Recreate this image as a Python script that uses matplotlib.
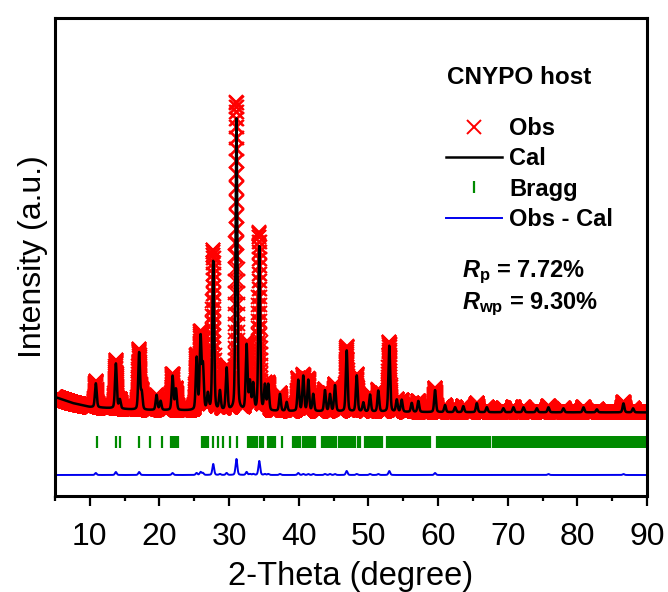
import numpy as np
import matplotlib
matplotlib.use('Agg')
import matplotlib.pyplot as plt
from matplotlib.ticker import MultipleLocator

plt.rcParams['font.family'] = ['Liberation Sans', 'DejaVu Sans']
plt.rcParams['mathtext.fontset'] = 'custom'
plt.rcParams['mathtext.rm'] = 'Liberation Sans:bold'
plt.rcParams['mathtext.it'] = 'Liberation Sans:italic:bold'
plt.rcParams['mathtext.bf'] = 'Liberation Sans:bold'

# ---------------- data ----------------
scan_start, scan_stop, scan_step = 5.0, 90.0, 0.01

bkg_2theta = [5, 7.5, 10, 17, 30, 60, 90]
bkg_counts = [1325, 1175, 1075, 1000, 975, 945, 940]

peak_pos = [10.86, 13.74, 14.31, 17.08, 17.45, 19.58, 20.16, 21.88, 22.36,
            25.33, 25.90, 26.24, 26.95, 27.72, 28.68, 29.64, 31.05, 32.51,
            32.99, 33.46, 34.33, 35.14, 35.62, 37.30, 38.26, 39.93, 40.65,
            41.37, 42.08, 43.76, 44.48, 45.20, 46.88, 48.32, 49.27, 50.23,
            51.42, 53.00, 54.07, 54.78, 56.22, 57.17, 59.57, 61.00, 62.44,
            63.63, 65.56, 67.00, 69.38, 70.82, 72.26, 74.18, 75.85, 78.00,
            80.88, 82.80, 86.62, 88.00]
peak_cal = [600, 1125, 225, 1425, 425, 375, 225, 850, 525,
            1300, 1800, 1075, 400, 3725, 475, 1050, 7300, 1625,
            700, 650, 4100, 625, 650, 425, 225, 775, 875,
            775, 425, 525, 425, 650, 1525, 900, 225, 425,
            525, 1650, 300, 300, 225, 275, 550, 175, 125,
            150, 225, 125, 100, 125, 125, 100, 125, 100,
            125, 75, 225, 100]
peak_obs = [650, 1200, 225, 1500, 425, 375, 225, 900, 525,
            1350, 1875, 1125, 400, 4000, 500, 1100, 7700, 1700,
            725, 675, 4450, 650, 675, 450, 225, 825, 900,
            800, 450, 550, 450, 675, 1625, 925, 225, 450,
            550, 1750, 300, 300, 225, 275, 600, 175, 125,
            150, 225, 125, 100, 125, 125, 100, 150, 100,
            125, 75, 250, 100]
peak_fwhm = 0.3
peak_eta = 0.3

bragg_pos = [11.10, 13.74, 14.31, 17.08, 18.62, 20.30,
             21.65, 21.90, 22.15, 22.40, 22.65,
             26.05, 26.30, 26.55, 26.80, 27.00, 27.72, 28.44, 29.15, 30.10,
             31.20, 32.75, 33.00, 33.25, 33.45, 33.70, 33.95,
             34.43, 34.65, 34.90, 35.60, 35.85, 36.10, 36.35, 36.58, 37.54,
             39.20, 39.45, 39.70, 39.95, 40.17, 40.60, 40.85, 41.10, 41.35,
             41.60, 41.85, 42.10, 42.33,
             43.29, 43.55, 43.80, 44.05, 44.30, 44.55, 44.80, 45.05, 45.30,
             45.75, 46.00, 46.25, 46.50, 46.75, 47.00, 47.20,
             47.55, 47.80, 48.05, 48.55, 48.80,
             49.51, 49.75, 50.00, 50.25, 50.50, 50.75, 51.00, 51.25, 51.50,
             51.75, 51.90,
             52.63, 52.85, 53.10, 53.35, 53.60, 53.85, 54.10, 54.35, 54.60,
             54.85, 55.10, 55.35, 55.60, 55.85, 56.10, 56.35, 56.60, 56.85,
             57.10, 57.35, 57.60, 57.85, 58.10, 58.35, 58.60, 58.85,
             59.81, 60.05, 60.30, 60.55, 60.80, 61.05, 61.30, 61.55, 61.80,
             62.05, 62.30, 62.55, 62.80, 63.05, 63.30, 63.55,
             63.88, 64.10, 64.35, 64.60, 64.85, 65.10, 65.35, 65.60, 65.85,
             66.10, 66.35, 66.60, 66.85, 67.10, 67.30, 67.47,
             67.95, 68.20, 68.45, 68.70, 68.95, 69.20, 69.45, 69.70, 69.95,
             70.20, 70.40, 70.59,
             70.82, 71.05, 71.30, 71.55, 71.80, 72.05, 72.30, 72.55, 72.80,
             73.05, 73.30, 73.55, 73.80, 74.05, 74.30, 74.55, 74.80, 75.05,
             75.30, 75.50, 75.62,
             75.99, 76.20, 76.45, 76.70, 76.95, 77.20, 77.45, 77.70, 77.95,
             78.20, 78.45, 78.70, 78.95, 79.20, 79.45, 79.70, 79.95, 80.20,
             80.45, 80.70, 80.95, 81.20, 81.45, 81.70, 81.95, 82.20, 82.45,
             82.70, 82.95, 83.20, 83.45, 83.70, 83.95, 84.20, 84.45, 84.70,
             84.95, 85.20, 85.45, 85.70, 85.95, 86.20, 86.45, 86.70, 86.95,
             87.20, 87.45, 87.70, 87.95, 88.20, 88.45, 88.70, 88.95, 89.20,
             89.45, 89.65]

bragg_level = 200
diff_offset = -625

x_ticks = [10, 20, 30, 40, 50, 60, 70, 80, 90]
legend_labels = ['Obs', 'Cal', 'Bragg', 'Obs - Cal']

# ---------------- profiles from the peak list ----------------
tt = np.arange(scan_start, scan_stop + scan_step / 2, scan_step)
bkg = np.interp(tt, bkg_2theta, bkg_counts)


def profile(heights):
    y = bkg.copy()
    for p, h in zip(peak_pos, heights):
        d = (tt - p) / (peak_fwhm / 2)
        y += h * (peak_eta / (1 + d ** 2) + (1 - peak_eta) * np.exp(-np.log(2) * d ** 2))
    return y


y_obs = profile(peak_obs)
y_cal = profile(peak_cal)
y_diff = y_obs - y_cal + diff_offset

# ---------------- figure ----------------
fig = plt.figure(figsize=(6.68, 5.92), dpi=100)
ax = fig.add_axes([55 / 668, 1 - 496 / 592, 592 / 668, 478 / 592])

ax.plot(tt, y_obs, ls='none', marker='x', ms=9.5, mew=1.4, color='#ff0000',
        label=legend_labels[0])
ax.plot(tt, y_cal, color='black', lw=1.8, label=legend_labels[1])
ax.plot(bragg_pos, [bragg_level] * len(bragg_pos), ls='none', marker='|',
        ms=8.5, mew=1.6, color='#008a00', label=legend_labels[2])
ax.plot(tt, y_diff, color='#0000ee', lw=1.4, label=legend_labels[3])

ax.set_xlim(5, 90)
ax.set_ylim(-1150, 10800)
ax.set_xticks(x_ticks)
ax.set_xticklabels([str(t) for t in x_ticks])
ax.xaxis.set_minor_locator(MultipleLocator(5))
ax.tick_params(axis='x', which='major', direction='out', length=7, width=1.6,
               labelsize=23, pad=12)
ax.tick_params(axis='x', which='minor', direction='out', length=3.5, width=1.6)
ax.tick_params(axis='y', which='both', left=False, right=False, labelleft=False)
for s in ax.spines.values():
    s.set_linewidth(2.2)

ax.set_xlabel('2-Theta (degree)', fontsize=23.5, va='baseline')
ax.set_ylabel('Intensity (a.u.)', fontsize=23)
ax.xaxis.set_label_coords(0.5, (496 - 585) / 478)
ax.yaxis.set_label_coords((48 - 55) / 592, 0.5)

ax.text((447 - 55) / 592, (496 - 84) / 478, 'CNYPO host', transform=ax.transAxes,
        fontsize=17.5, fontweight='bold', ha='left', va='baseline')

leg = ax.legend(loc='upper left', bbox_to_anchor=((446 - 55) / 592, (496 - 117) / 478),
                frameon=False, fontsize=17, handlelength=2.37, handletextpad=0.3,
                labelspacing=0.31, borderpad=0, borderaxespad=0, numpoints=1)
for t in leg.get_texts():
    t.set_fontweight('bold')

ax.text((462 - 55) / 592, (496 - 277) / 478, r'$R_{\mathrm{p}}$ = 7.72%',
        transform=ax.transAxes, fontsize=17, fontweight='bold', ha='left', va='baseline')
ax.text((462 - 55) / 592, (496 - 309) / 478, r'$R_{\mathrm{wp}}$ = 9.30%',
        transform=ax.transAxes, fontsize=17, fontweight='bold', ha='left', va='baseline')

fig.savefig('out.png', dpi=100)
